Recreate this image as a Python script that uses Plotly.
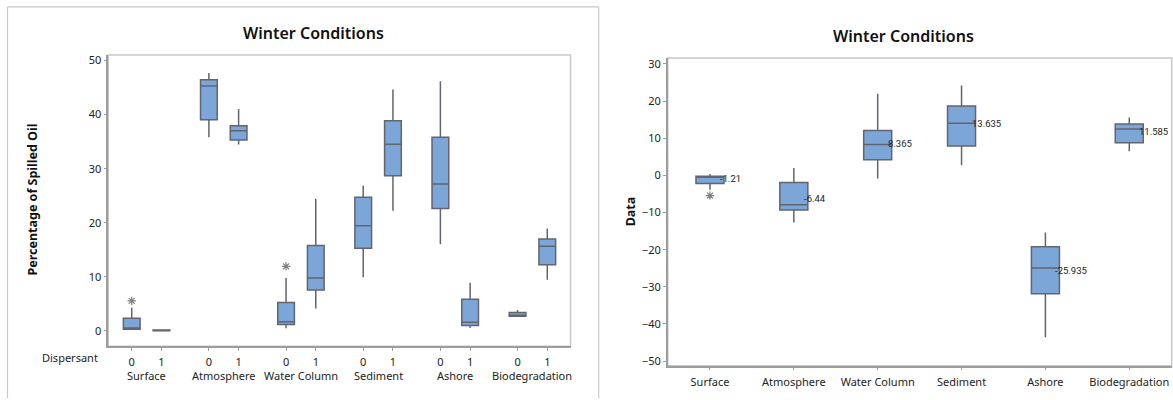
import plotly.graph_objects as go

# ---------------- data ----------------
groups = ["Surface", "Atmosphere", "Water Column", "Sediment", "Ashore", "Biodegradation"]
dispersant = [0, 1]

# left panel: 12 boxes, group-major order (Surface 0, Surface 1, Atmosphere 0, ...)
left_q1 = [0.3, 0.0, 39.05, 35.3, 1.16, 7.55, 15.3, 28.7, 22.65, 0.97, 2.68, 12.24]
left_median = [0.55, 0.06, 45.3, 37.0, 1.7, 9.8, 19.43, 34.53, 27.16, 1.58, 2.9, 15.65]
left_q3 = [2.31, 0.14, 46.47, 37.94, 5.24, 15.77, 24.73, 38.86, 35.81, 5.85, 3.41, 16.99]
left_low = [0.3, 0.0, 35.8, 34.47, 0.49, 4.14, 9.93, 22.23, 16.02, 0.55, 2.68, 9.44]
left_high = [4.26, 0.14, 47.7, 41.05, 9.8, 24.42, 26.86, 44.64, 46.16, 8.89, 3.84, 18.94]
left_outlier_box = [0, 4]          # box index
left_outlier_val = [5.54, 11.94]

# right panel: 6 boxes
right_q1 = [-2.2, -9.35, 4.2, 7.92, -31.85, 8.8]
right_median = [-0.5, -7.92, 8.29, 14.03, -24.9, 12.5]
right_q3 = [-0.25, -1.9, 12.1, 18.66, -19.2, 13.8]
right_low = [-3.9, -12.7, -0.85, 2.7, -43.6, 6.5]
right_high = [0.35, 2.0, 22.0, 24.2, -15.4, 15.6]
right_mean_label = [-1.21, -6.44, 8.365, 13.635, -25.935, 11.585]
right_outlier_box = [0]
right_outlier_val = [-5.43]

left_yticks = [0, 10, 20, 30, 40, 50]
right_yticks = [-50, -40, -30, -20, -10, 0, 10, 20, 30]

# ---------------- style ----------------
W, H = 1173, 400
FONT = "Noto Sans, Open Sans, sans-serif"
TXT = "#222222"
FILL = "#7CA6D8"
EDGE = "#62646f"
AXIS = "#9c9c9c"
BORDER = "#c8c8c8"
GSTEP, DSTEP = 77.1, 29.7   # left panel spacing (pixel-like units)

fig = go.Figure()

# left boxes
left_pos = []
for g in range(len(groups)):
    for d in dispersant:
        left_pos.append(g * GSTEP + d * DSTEP)

for i, p in enumerate(left_pos):
    fig.add_trace(go.Box(
        x=[p], q1=[left_q1[i]], median=[left_median[i]], q3=[left_q3[i]],
        lowerfence=[left_low[i]], upperfence=[left_high[i]],
        width=16.7, whiskerwidth=0, fillcolor=FILL,
        line=dict(color=EDGE, width=1.5), boxpoints=False,
        showlegend=False, hoverinfo="skip", xaxis="x", yaxis="y"))

fig.add_trace(go.Scatter(
    x=[left_pos[b] for b in left_outlier_box], y=left_outlier_val, mode="markers",
    marker=dict(symbol="asterisk-open", size=7, color="#808080",
                line=dict(color="#808080", width=1.2)),
    showlegend=False, hoverinfo="skip", xaxis="x", yaxis="y"))

# right boxes
for i in range(len(groups)):
    fig.add_trace(go.Box(
        x=[i], q1=[right_q1[i]], median=[right_median[i]], q3=[right_q3[i]],
        lowerfence=[right_low[i]], upperfence=[right_high[i]],
        width=0.334, whiskerwidth=0, fillcolor=FILL,
        line=dict(color=EDGE, width=1.5), boxpoints=False,
        showlegend=False, hoverinfo="skip", xaxis="x2", yaxis="y2"))

fig.add_trace(go.Scatter(
    x=right_outlier_box, y=right_outlier_val, mode="markers",
    marker=dict(symbol="asterisk-open", size=7, color="#808080",
                line=dict(color="#808080", width=1.2)),
    showlegend=False, hoverinfo="skip", xaxis="x2", yaxis="y2"))

annotations = []
for i, v in enumerate(right_mean_label):
    annotations.append(dict(
        x=i + 0.107, y=v, xref="x2", yref="y2", text=str(v), showarrow=False,
        xanchor="left", yanchor="middle", yshift=1, borderpad=0,
        font=dict(family="Liberation Sans Narrow, Roboto, sans-serif", size=9.5, color=TXT)))

# group names under left panel
for g, name in enumerate(groups):
    annotations.append(dict(
        x=g * GSTEP + DSTEP / 2, y=1 - 377.5 / H, xref="x", yref="paper", text=name,
        showarrow=False, xanchor="center", yanchor="middle",
        font=dict(family=FONT, size=11, color=TXT)))

annotations.append(dict(x=69.8 / W, y=1 - 359 / H, xref="paper", yref="paper",
                        text="Dispersant", showarrow=False, xanchor="center", yanchor="middle",
                        font=dict(family=FONT, size=11, color=TXT)))

# titles
annotations.append(dict(x=313.7 / W, y=1 - 30 / H, xref="paper", yref="paper",
                        text="Winter Conditions", showarrow=False, xanchor="center", yanchor="middle",
                        font=dict(family=FONT, size=16, color="#111111", weight=600)))
annotations.append(dict(x=903 / W, y=1 - 33 / H, xref="paper", yref="paper",
                        text="Winter Conditions", showarrow=False, xanchor="center", yanchor="middle",
                        font=dict(family=FONT, size=16, color="#111111", weight=600)))
# y axis titles
annotations.append(dict(x=32.5 / W, y=1 - 199.5 / H, xref="paper", yref="paper",
                        text="Percentage of Spilled Oil", showarrow=False, textangle=-90,
                        xanchor="center", yanchor="middle",
                        font=dict(family=FONT, size=12.5, color="#111111", weight="bold")))
annotations.append(dict(x=630 / W, y=1 - 211 / H, xref="paper", yref="paper",
                        text="Data", showarrow=False, textangle=-90,
                        xanchor="center", yanchor="middle",
                        font=dict(family=FONT, size=12.5, color="#111111", weight="bold")))

shapes = [
    # plot area borders (light grey)
    dict(type="rect", xref="x domain", yref="y domain", x0=0, x1=1, y0=0, y1=1,
         line=dict(color=BORDER, width=1.5), layer="below"),
    dict(type="rect", xref="x2 domain", yref="y2 domain", x0=0, x1=1, y0=0, y1=1,
         line=dict(color=BORDER, width=1.5), layer="below"),
    # outer frame of the left panel
    dict(type="line", xref="paper", yref="paper", x0=7.5 / W, x1=7.5 / W, y0=0, y1=1 - 4 / H,
         line=dict(color=BORDER, width=1.2)),
    dict(type="line", xref="paper", yref="paper", x0=7.5 / W, x1=598.7 / W, y0=1 - 4 / H, y1=1 - 4 / H,
         line=dict(color=BORDER, width=1.2)),
    dict(type="line", xref="paper", yref="paper", x0=598.7 / W, x1=598.7 / W, y0=0, y1=1 - 4 / H,
         line=dict(color=BORDER, width=1.2)),
]

tickfont = dict(family=FONT, size=11, color=TXT)
axis_common = dict(showgrid=False, zeroline=False, showline=True, linecolor=AXIS, linewidth=1.5,
                   ticks="outside", ticklen=3, tickcolor=AXIS, tickwidth=1, tickfont=tickfont)

fig.update_layout(
    width=W, height=H, margin=dict(l=0, r=0, t=0, b=0),
    paper_bgcolor="white", plot_bgcolor="white",
    xaxis=dict(domain=[108.3 / W, 570.5 / W], range=[-23.4, 5 * GSTEP + DSTEP + 23.2],
               tickmode="array", tickvals=left_pos,
               ticktext=[str(d) for _ in groups for d in dispersant],
               anchor="y", ticklabelstandoff=2, **axis_common),
    yaxis=dict(domain=[1 - 347.5 / H, 1 - 52.7 / H], range=[-2.83, 51.02],
               tickmode="array", tickvals=left_yticks, anchor="x", **axis_common),
    xaxis2=dict(domain=[667.7 / W, 1171.7 / W], range=[-0.504, 5.506],
                tickmode="array", tickvals=list(range(len(groups))), ticktext=groups,
                anchor="y2", ticklabelstandoff=2, **axis_common),
    yaxis2=dict(domain=[1 - 367.3 / H, 1 - 55.7 / H], range=[-51.23, 31.59],
                tickmode="array", tickvals=right_yticks, anchor="x2", **axis_common),
    annotations=annotations, shapes=shapes,
)

fig.write_html("out.html", config={"displayModeBar": False},
               post_script="document.body.style.margin='0';document.body.style.overflow='hidden';")
